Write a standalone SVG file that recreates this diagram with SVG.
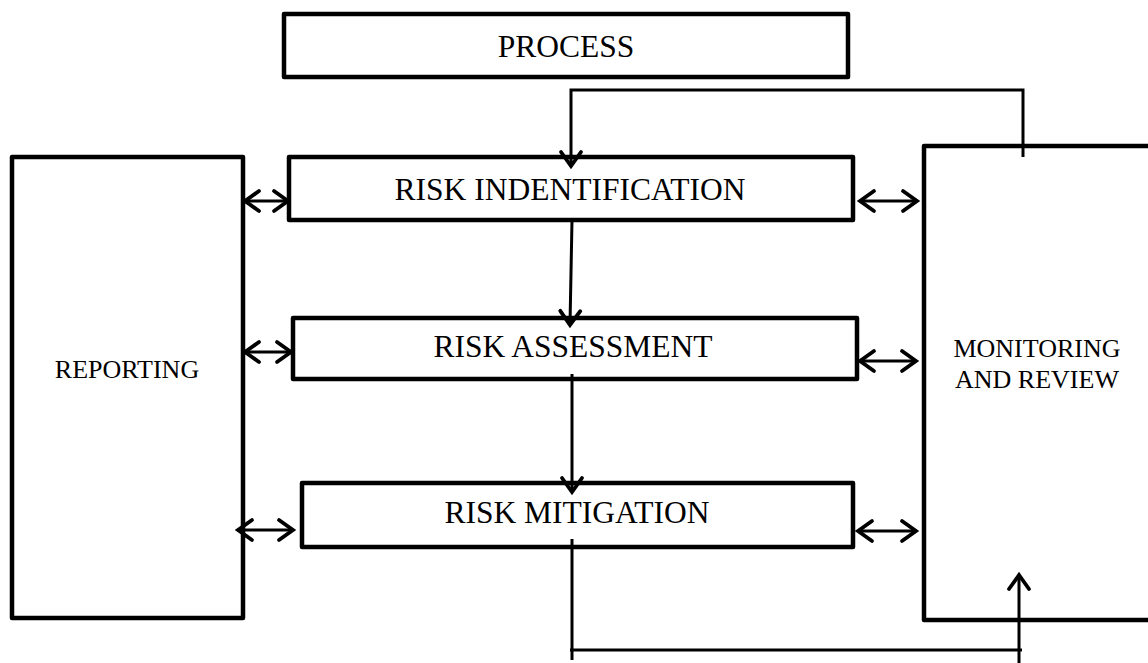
<svg xmlns="http://www.w3.org/2000/svg" width="1148" height="663" viewBox="0 0 1148 663">
<style>
.box{fill:#fff;stroke:#000;stroke-width:4.5;stroke-linejoin:round}
.t{font-family:"Liberation Serif","Times New Roman",serif;fill:#000;text-anchor:middle}
.big{font-size:31.5px}
.small{font-size:26px}
.c{fill:none;stroke:#000;stroke-width:3}
</style>
<defs>
<marker id="ah" markerUnits="userSpaceOnUse" markerWidth="30" markerHeight="30" viewBox="-20 -15 30 30" refX="0" refY="0" orient="auto-start-reverse">
<path d="M-14,-10 L0,0 L-14,10" fill="none" stroke="#000" stroke-width="3.8" stroke-linecap="round" stroke-linejoin="miter"/>
</marker>
</defs>
<rect width="1148" height="663" fill="#fff"/>
<g id="process"><rect class="box" x="284" y="14" width="564" height="63"/><text class="t big" x="566" y="57">PROCESS</text></g>
<g id="reporting"><rect class="box" x="12" y="157" width="231" height="461"/><text class="t small" x="127" y="378">REPORTING</text></g>
<g id="monitoring"><rect class="box" x="924" y="146" width="240" height="474"/><text class="t small" x="1037" y="357">MONITORING</text><text class="t small" x="1037" y="388">AND REVIEW</text></g>
<g id="risk-identification"><rect class="box" x="289" y="157" width="564" height="63"/><text class="t big" x="570" y="200">RISK INDENTIFICATION</text></g>
<g id="risk-assessment"><rect class="box" x="293" y="318" width="564" height="61"/><text class="t big" x="573" y="357">RISK ASSESSMENT</text></g>
<g id="risk-mitigation"><rect class="box" x="302" y="483" width="551" height="64"/><text class="t big" x="577" y="523">RISK MITIGATION</text></g>
<g id="connectors">
<path class="c" d="M1023,157 V90 H571 V166" marker-end="url(#ah)"/>
<path class="c" d="M572,220 L570,325" marker-end="url(#ah)"/>
<path class="c" d="M572,374 L572,492" marker-end="url(#ah)"/>
<path class="c" d="M572,539 V660 M570,650 H1022"/>
<path class="c" d="M1019,663 V575" marker-end="url(#ah)"/>
<path class="c" d="M245,201 H288" marker-start="url(#ah)" marker-end="url(#ah)"/>
<path class="c" d="M860,201 H917" marker-start="url(#ah)" marker-end="url(#ah)"/>
<path class="c" d="M245,352 H291" marker-start="url(#ah)" marker-end="url(#ah)"/>
<path class="c" d="M860,361 H916" marker-start="url(#ah)" marker-end="url(#ah)"/>
<path class="c" d="M238,530 H293" marker-start="url(#ah)" marker-end="url(#ah)"/>
<path class="c" d="M858,531 H916" marker-start="url(#ah)" marker-end="url(#ah)"/>
</g>
</svg>
